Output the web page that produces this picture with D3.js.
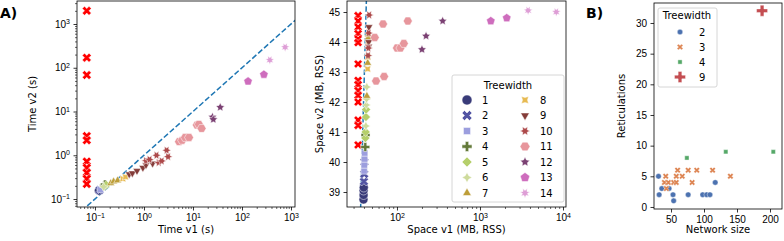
<!DOCTYPE html>
<html>
<head>
<meta charset="utf-8">
<script src="https://cdn.jsdelivr.net/npm/d3@7"></script>
<style>
body { margin: 0; background: #fff; }
svg { font-family: "DejaVu Sans", sans-serif; }
</style>
</head>
<body>
<script>
// ---- data ----
var treewidths = [1, 2, 3, 4, 5, 6, 7, 8, 9, 10, 11, 12, 13, 14];

// panel A left: time (s)
var timeTw = [1, 2, 3, 4, 4, 5, 6, 7, 7, 7, 8, 8, 9, 9, 9, 9, 9, 9,
  10, 10, 10, 10, 10, 10, 10, 11, 11, 11, 11, 11, 11, 11, 12, 12, 12, 13, 13, 14, 14];
var timeV1 = [0.12, 0.125, 0.13, 0.155, 0.16, 0.17, 0.15, 0.21, 0.24, 0.29, 0.37, 0.42,
  0.5, 0.58, 0.72, 0.95, 1.1, 1.5,
  1.1, 1.3, 1.8, 2.0, 2.3, 2.9, 3.1,
  5.2, 6.0, 6.9, 8.3, 12, 13.2, 15,
  25, 26, 36, 133, 280, 370, 760];
var timeV2 = [0.155, 0.16, 0.165, 0.2, 0.215, 0.21, 0.19, 0.23, 0.25, 0.265, 0.29, 0.32,
  0.37, 0.39, 0.44, 0.52, 0.6, 0.65,
  0.75, 0.8, 1.0, 0.68, 0.74, 1.3, 0.93,
  2.05, 2.2, 2.55, 2.55, 4.9, 5.1, 4.1,
  7.5, 6.6, 12.5, 49, 70, 150, 295];
var timeFailV1 = 0.068;
var timeFailV2 = [2000, 170, 68, 2.75, 2.2, 0.72, 0.52, 0.4, 0.29, 0.22];

// panel A right: space (MB, RSS)
var spaceTw = [1, 1, 1, 1, 2, 2, 2, 3, 3, 3, 3, 4, 4, 5, 5, 5, 5, 6, 6, 6, 6,
  7, 7, 7, 7, 8, 8, 8, 9, 9, 9, 10, 10, 10, 10,
  11, 11, 11, 11, 11, 11, 11, 11, 12, 12, 12, 13, 13, 14, 14];
var spaceV1 = [39.5, 39.6, 39.6, 39.8, 40, 40.3, 40.5, 40.2, 40.4, 40.7, 40.8, 41.5, 41.8,
  41.6, 42, 42.3, 42.5, 42.2, 42.7, 43, 43.3,
  43.4, 44.4, 45.2, 45.3, 44.3, 44.6, 45.0, 45.6, 45.9, 45.5, 44.8, 45.2, 46.2, 45.6,
  54, 68, 135, 100, 110, 121, 56, 70, 200, 224, 355, 1350, 2100, 3800, 8300];
var spaceV2 = [38.75, 38.9, 39.05, 39.15, 39.35, 39.6, 40.0, 39.7, 39.9, 40.1, 40.3, 40.5, 40.9,
  40.8, 41.0, 41.5, 41.75, 41.2, 41.9, 42.1, 42.5,
  42.2, 43.3, 44.15, 44.25, 43.1, 43.5, 43.95, 44.0, 44.5, 43.85, 43.55, 43.8, 44.9, 44.3,
  44.15, 44.6, 44.7, 43.8, 43.8, 43.95, 42.7, 42.85, 43.75, 44.2, 44.7, 44.7, 44.8, 45.05, 45.0];
var spaceFailV1 = 34;
var spaceFailV2 = [44.88, 44.7, 44.5, 44.28, 44.1, 43.98, 43.27, 42.72, 42.58, 42.38, 42.22,
  42.0, 41.4, 41.22, 40.57];

// panel B
var netTw = [2, 2, 2, 2, 2, 2, 2, 2, 2, 2, 2,
  3, 3, 3, 3, 3, 3, 3, 3, 3, 3, 3, 3, 3, 3,
  4, 4, 4, 9];
var netSize = [31, 32, 36, 47, 53, 54, 76, 98, 104, 109, 117,
  42, 40, 46, 43, 54, 58, 58, 60, 67, 76, 82, 89, 113, 140,
  74, 133, 205, 188];
var netRet = [5, 2, 3, 3, 2, 1, 2, 2, 2, 2, 4,
  5, 4, 4, 3, 4, 4, 5, 6, 5, 6, 4, 6, 6, 5,
  8, 9, 9, 32];
var netLegend = [2, 3, 4, 9];

// ---- styles ----
var twColor = d3.scaleOrdinal().domain(treewidths).range([
  "#393b79", "#5254a3", "#9c9ede", "#637939", "#b5cf6b", "#cedb9c", "#bd9e39",
  "#e7ba52", "#843c39", "#ad494a", "#e7969c", "#7b4173", "#ce6dbd", "#de9ed6"]);
var netColor = d3.scaleOrdinal().domain(netLegend).range(["#4c72b0", "#dd8452", "#55a868", "#c44e52"]);

// seaborn marker cycle: [kind, sides, star, rotation]
var markerDefs = {
  1: ["o"], 2: ["X"], 3: ["poly", 4, 0, 45], 4: ["P"], 5: ["poly", 4, 0, 0],
  6: ["poly", 4, 1, 0], 7: ["poly", 3, 0, 0], 8: ["poly", 4, 1, 45], 9: ["poly", 3, 0, 180],
  10: ["poly", 6, 1, 30], 11: ["poly", 6, 0, 30], 12: ["poly", 5, 1, 0], 13: ["poly", 5, 0, 0],
  14: ["poly", 7, 1, 25.7]
};
var netMarkers = {2: ["o"], 3: ["X"], 4: ["poly", 4, 0, 45], 9: ["P"]};

function markerPath(def, size) {
  var s = size;
  if (def[0] == "o") {
    var r = s / 2;
    return "M" + r + ",0A" + r + "," + r + " 0 1,1 " + (-r) + ",0A" + r + "," + r + " 0 1,1 " + r + ",0Z";
  }
  if (def[0] == "X") {
    var p = [[-0.25, -0.5], [0, -0.25], [0.25, -0.5], [0.5, -0.25], [0.25, 0], [0.5, 0.25],
      [0.25, 0.5], [0, 0.25], [-0.25, 0.5], [-0.5, 0.25], [-0.25, 0], [-0.5, -0.25]];
    return "M" + p.map(function (q) { return [q[0] * s, q[1] * s].join(","); }).join("L") + "Z";
  }
  if (def[0] == "P") {
    var p2 = [[-1, -3], [1, -3], [1, -1], [3, -1], [3, 1], [1, 1], [1, 3], [-1, 3], [-1, 1], [-3, 1], [-3, -1], [-1, -1]];
    return "M" + p2.map(function (q) { return [q[0] * s / 6, q[1] * s / 6].join(","); }).join("L") + "Z";
  }
  var n = def[1], star = def[2], rot = def[3] * Math.PI / 180;
  var pts = [];
  var count = star ? 2 * n : n;
  for (var i = 0; i < count; i++) {
    var a = -Math.PI / 2 - rot + i * 2 * Math.PI / count;
    var rr = (star && i % 2 == 1) ? s / 4 : s / 2;
    pts.push([rr * Math.cos(a), rr * Math.sin(a)]);
  }
  return "M" + pts.map(function (q) { return q.join(","); }).join("L") + "Z";
}

var svg = d3.select("body").append("svg").attr("width", 784).attr("height", 241);

function supLabels(g) {
  g.selectAll(".tick text").each(function (d) {
    var e = Math.round(Math.log10(d));
    var t = d3.select(this).text(null);
    t.append("tspan").text("10");
    t.append("tspan").attr("dy", "-0.5em").attr("font-size", "7px")
      .text(e < 0 ? "\u2212" + (-e) : String(e));
  });
}

function styleAxis(g) {
  g.select(".domain").remove();
  g.selectAll(".tick line").attr("stroke", "#000").attr("stroke-width", 0.8);
  g.selectAll(".tick text").attr("fill", "#000").attr("font-size", "10px");
}

function minorValues(lo, hi) {
  var out = [];
  for (var e = -3; e <= 5; e++) {
    for (var m = 2; m <= 9; m++) {
      var v = m * Math.pow(10, e);
      if (v >= lo && v <= hi) out.push(v);
    }
  }
  return out;
}

function frame(x0, y0, x1, y1, id) {
  svg.append("clipPath").attr("id", id).append("rect")
    .attr("x", x0).attr("y", y0).attr("width", x1 - x0).attr("height", y1 - y0);
}
function spine(x0, y0, x1, y1) {
  svg.append("rect").attr("x", x0).attr("y", y0).attr("width", x1 - x0).attr("height", y1 - y0)
    .attr("fill", "none").attr("stroke", "#000").attr("stroke-width", 0.8);
}

// ================= Panel A left: time =================
var a1 = {x0: 77, x1: 295, y0: 1, y1: 207};
var xT = d3.scaleLog().domain([0.043, 1207]).range([a1.x0, a1.x1]);
var yT = d3.scaleLog().domain([0.0657, 3357]).range([a1.y1, a1.y0]);
frame(a1.x0, a1.y0, a1.x1, a1.y1, "clipA1");

var gxT = svg.append("g").attr("transform", "translate(0," + a1.y1 + ")")
  .call(d3.axisBottom(xT).tickValues([0.1, 1, 10, 100, 1000]).tickSize(3.5).tickPadding(3.5));
supLabels(gxT); styleAxis(gxT);
var gxTm = svg.append("g").attr("transform", "translate(0," + a1.y1 + ")")
  .call(d3.axisBottom(xT).tickValues(minorValues(0.043, 1207)).tickSize(2).tickFormat(""));
styleAxis(gxTm); gxTm.selectAll(".tick line").attr("stroke-width", 0.6);

var gyT = svg.append("g").attr("transform", "translate(" + a1.x0 + ",0)")
  .call(d3.axisLeft(yT).tickValues([0.1, 1, 10, 100, 1000]).tickSize(3.5).tickPadding(3.5));
supLabels(gyT); styleAxis(gyT);
var gyTm = svg.append("g").attr("transform", "translate(" + a1.x0 + ",0)")
  .call(d3.axisLeft(yT).tickValues(minorValues(0.0657, 3357)).tickSize(2).tickFormat(""));
styleAxis(gyTm); gyTm.selectAll(".tick line").attr("stroke-width", 0.6);

var pA1 = svg.append("g").attr("clip-path", "url(#clipA1)");
pA1.append("line")
  .attr("x1", xT(0.04)).attr("y1", yT(0.04)).attr("x2", xT(4000)).attr("y2", yT(4000))
  .attr("stroke", "#1f77b4").attr("stroke-width", 1.5).attr("stroke-dasharray", "5.5,2.4");
pA1.selectAll("path.pt").data(timeV1).enter().append("path")
  .attr("class", "pt")
  .attr("d", function (d, i) { return markerPath(markerDefs[timeTw[i]], 9); })
  .attr("transform", function (d, i) { return "translate(" + xT(d) + "," + yT(timeV2[i]) + ")"; })
  .attr("fill", function (d, i) { return twColor(timeTw[i]); })
  .attr("stroke", "#fff").attr("stroke-width", 0.5);
pA1.selectAll("path.fail").data(timeFailV2).enter().append("path")
  .attr("class", "fail")
  .attr("d", markerPath(["X"], 9))
  .attr("transform", function (d) { return "translate(" + xT(timeFailV1) + "," + yT(d) + ")"; })
  .attr("fill", "#ff0000").attr("stroke", "#fff").attr("stroke-width", 0.5);
spine(a1.x0, a1.y0, a1.x1, a1.y1);

svg.append("text").attr("x", (a1.x0 + a1.x1) / 2).attr("y", 233).attr("text-anchor", "middle")
  .attr("font-size", "10px").text("Time v1 (s)");
svg.append("text").attr("transform", "translate(36," + (a1.y0 + a1.y1) / 2 + ") rotate(-90)")
  .attr("text-anchor", "middle").attr("font-size", "10px").text("Time v2 (s)");
svg.append("text").attr("x", 0).attr("y", 18).attr("font-size", "14px").attr("font-weight", "bold").text("A)");

// ================= Panel A right: space =================
var a2 = {x0: 347, x1: 566, y0: 1, y1: 207};
var xS = d3.scaleLog().domain([25.0, 10870]).range([a2.x0, a2.x1]);
var yS = d3.scaleLinear().domain([38.5, 45.367]).range([a2.y1, a2.y0]);
frame(a2.x0, a2.y0, a2.x1, a2.y1, "clipA2");

var gxS = svg.append("g").attr("transform", "translate(0," + a2.y1 + ")")
  .call(d3.axisBottom(xS).tickValues([100, 1000, 10000]).tickSize(3.5).tickPadding(3.5));
supLabels(gxS); styleAxis(gxS);
var gxSm = svg.append("g").attr("transform", "translate(0," + a2.y1 + ")")
  .call(d3.axisBottom(xS).tickValues(minorValues(25, 10870)).tickSize(2).tickFormat(""));
styleAxis(gxSm); gxSm.selectAll(".tick line").attr("stroke-width", 0.6);
var gyS = svg.append("g").attr("transform", "translate(" + a2.x0 + ",0)")
  .call(d3.axisLeft(yS).tickValues([39, 40, 41, 42, 43, 44, 45]).tickFormat(d3.format("d"))
    .tickSize(3.5).tickPadding(3.5));
styleAxis(gyS);

var pA2 = svg.append("g").attr("clip-path", "url(#clipA2)");
pA2.append("line")
  .attr("x1", xS(30)).attr("y1", yS(30)).attr("x2", xS(60)).attr("y2", yS(60))
  .attr("stroke", "#1f77b4").attr("stroke-width", 1.5).attr("stroke-dasharray", "5.5,2.4");
pA2.selectAll("path.fail").data(spaceFailV2).enter().append("path")
  .attr("class", "fail")
  .attr("d", markerPath(["X"], 8.5))
  .attr("transform", function (d) { return "translate(" + xS(spaceFailV1) + "," + yS(d) + ")"; })
  .attr("fill", "#ff0000").attr("stroke", "#fff").attr("stroke-width", 0.5);
pA2.selectAll("path.pt").data(spaceV1).enter().append("path")
  .attr("class", "pt")
  .attr("d", function (d, i) { return markerPath(markerDefs[spaceTw[i]], 9); })
  .attr("transform", function (d, i) { return "translate(" + xS(d) + "," + yS(spaceV2[i]) + ")"; })
  .attr("fill", function (d, i) { return twColor(spaceTw[i]); })
  .attr("stroke", "#fff").attr("stroke-width", 0.5);
spine(a2.x0, a2.y0, a2.x1, a2.y1);

svg.append("text").attr("x", (a2.x0 + a2.x1) / 2).attr("y", 233).attr("text-anchor", "middle")
  .attr("font-size", "10px").text("Space v1 (MB, RSS)");
svg.append("text").attr("transform", "translate(323," + (a2.y0 + a2.y1) / 2 + ") rotate(-90)")
  .attr("text-anchor", "middle").attr("font-size", "10px").text("Space v2 (MB, RSS)");

// legend A
var legA = svg.append("g");
legA.append("rect").attr("x", 452).attr("y", 75).attr("width", 112).attr("height", 127).attr("rx", 2)
  .attr("fill", "#fff").attr("fill-opacity", 0.8).attr("stroke", "#ccc").attr("stroke-width", 0.8);
legA.append("text").attr("x", 508).attr("y", 89).attr("text-anchor", "middle").attr("font-size", "10px").text("Treewidth");
var legItems = legA.selectAll("g.item").data(treewidths).enter().append("g").attr("class", "item")
  .attr("transform", function (d, i) {
    return "translate(" + (i < 7 ? 467 : 525) + "," + (100 + (i % 7) * 15.5) + ")";
  });
legItems.append("path").attr("d", function (d) { return markerPath(markerDefs[d], 10); })
  .attr("fill", function (d) { return twColor(d); }).attr("stroke", "#fff").attr("stroke-width", 0.5);
legItems.append("text").attr("x", 15).attr("y", 3.6).attr("font-size", "10px").text(function (d) { return d; });

// ================= Panel B =================
var b = {x0: 654, x1: 782, y0: 3, y1: 209};
var xB = d3.scaleLinear().domain([24.2, 218.2]).range([b.x0, b.x1]);
var yB = d3.scaleLinear().domain([-0.33, 33.26]).range([b.y1, b.y0]);
var gxB = svg.append("g").attr("transform", "translate(0," + b.y1 + ")")
  .call(d3.axisBottom(xB).tickValues([50, 100, 150, 200]).tickSize(3.5).tickPadding(3.5));
styleAxis(gxB);
var gyB = svg.append("g").attr("transform", "translate(" + b.x0 + ",0)")
  .call(d3.axisLeft(yB).tickValues([0, 5, 10, 15, 20, 25, 30]).tickSize(3.5).tickPadding(3.5));
styleAxis(gyB);

var netSizes = {2: 5.5, 3: 6, 4: 6, 9: 11};
svg.append("g").selectAll("path").data(netSize).enter().append("path")
  .attr("d", function (d, i) { return markerPath(netMarkers[netTw[i]], netSizes[netTw[i]]); })
  .attr("transform", function (d, i) { return "translate(" + xB(d) + "," + yB(netRet[i]) + ")"; })
  .attr("fill", function (d, i) { return netColor(netTw[i]); })
  .attr("stroke", "#fff").attr("stroke-width", 0.4);
spine(b.x0, b.y0, b.x1, b.y1);

svg.append("text").attr("x", (b.x0 + b.x1) / 2).attr("y", 233).attr("text-anchor", "middle")
  .attr("font-size", "10px").text("Network size");
svg.append("text").attr("transform", "translate(625," + (b.y0 + b.y1) / 2 + ") rotate(-90)")
  .attr("text-anchor", "middle").attr("font-size", "10px").text("Reticulations");
svg.append("text").attr("x", 586).attr("y", 18).attr("font-size", "14px").attr("font-weight", "bold").text("B)");

var legB = svg.append("g");
legB.append("rect").attr("x", 658).attr("y", 8).attr("width", 59).attr("height", 79).attr("rx", 2)
  .attr("fill", "#fff").attr("fill-opacity", 0.8).attr("stroke", "#ccc").attr("stroke-width", 0.8);
legB.append("text").attr("x", 687).attr("y", 19).attr("text-anchor", "middle").attr("font-size", "10px").text("Treewidth");
var legBItems = legB.selectAll("g.item").data(netLegend).enter().append("g").attr("class", "item")
  .attr("transform", function (d, i) { return "translate(680," + (32 + i * 15) + ")"; });
legBItems.append("path").attr("d", function (d) { return markerPath(netMarkers[d], netSizes[d]); })
  .attr("fill", function (d) { return netColor(d); }).attr("stroke", "#fff").attr("stroke-width", 0.4);
legBItems.append("text").attr("x", 19).attr("y", 3.6).attr("font-size", "10px").text(function (d) { return d; });
</script>
</body>
</html>
